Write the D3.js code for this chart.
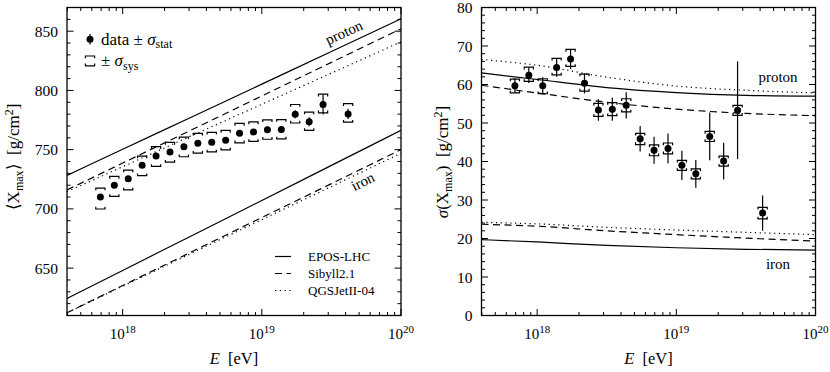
<!DOCTYPE html>
<html><head><meta charset="utf-8">
<script src="https://cdn.jsdelivr.net/npm/d3@7"></script>
<style>
body{margin:0;background:#fff}
svg{display:block}
text{font-family:"Liberation Serif","Times New Roman",serif;fill:#000}
</style>
</head><body>
<svg id="c" width="830" height="372"></svg>
<script>
// ---- data (log10 of energy in eV) ----
const lgE = [17.84, 17.94, 18.04, 18.14, 18.24, 18.34, 18.44, 18.54, 18.64, 18.74, 18.84, 18.94, 19.04, 19.14, 19.24, 19.34, 19.44, 19.62];
// <Xmax>
const meanXmax  = [710.0, 720.0, 725.4, 736.9, 744.7, 748.1, 752.4, 755.4, 756.3, 757.9, 763.8, 765.0, 766.7, 767.0, 779.9, 773.5, 788.1, 780.2];
const meanStat  = [0.9, 1.0, 1.1, 1.2, 1.3, 1.4, 1.5, 1.7, 1.9, 2.1, 2.3, 2.5, 2.7, 3.0, 3.3, 3.8, 8.5, 4.3];
const meanSysUp = [7.6, 7.4, 7.4, 7.6, 7.8, 8.0, 8.2, 8.3, 8.3, 8.3, 8.3, 8.4, 8.4, 8.4, 8.2, 8.2, 8.7, 8.6];
const meanSysDn = [10.1, 9.4, 9.4, 8.9, 8.8, 8.6, 8.4, 8.3, 8.2, 8.1, 8.0, 8.0, 7.9, 7.9, 7.4, 7.3, 7.0, 7.0];
// sigma(Xmax)
const sigXmax   = [59.7, 62.4, 59.7, 64.4, 66.6, 60.3, 53.4, 53.6, 54.6, 45.9, 42.9, 43.4, 39.0, 36.8, 46.5, 40.1, 53.3, 26.6];
const sigStat   = [1.9, 2.0, 2.2, 2.4, 2.6, 2.6, 2.8, 3.0, 3.4, 3.3, 3.5, 3.9, 3.8, 3.6, 6.2, 4.8, 12.7, 4.6];
const sigSysUp  = [1.7, 2.1, 1.8, 2.4, 2.5, 2.4, 1.7, 1.7, 1.7, 1.4, 1.4, 1.4, 1.3, 1.3, 1.3, 1.3, 1.3, 1.5];
const sigSysDn  = [1.9, 1.6, 2.1, 1.9, 1.9, 2.0, 1.7, 1.7, 1.7, 1.5, 1.4, 1.4, 1.3, 1.3, 1.3, 1.3, 1.3, 1.5];

// ---- model predictions ----
const modelLg = [17.6, 18.0, 18.5, 19.0, 19.5, 20.0];
const meanEposP = [728.3, 750.3, 777.8, 805.3, 832.8, 860.4];
const meanSibP  = [716.0, 738.7, 767.0, 795.3, 823.7, 852.0];
const meanQgsP  = [714.5, 735.6, 762.0, 788.3, 814.6, 841.0];
const meanEposFe = [624.4, 648.0, 677.6, 707.1, 736.7, 766.3];
const meanSibFe  = [612.3, 635.3, 664.0, 692.7, 721.3, 750.0];
const meanQgsFe  = [612.3, 634.7, 662.8, 690.9, 718.9, 747.0];
const sigEposP  = [63.0, 61.3, 59.2, 57.9, 57.2, 57.0];
const sigSibP   = [59.8, 57.8, 55.4, 53.6, 52.5, 51.9];
const sigQgsP   = [66.5, 65.0, 61.9, 59.6, 58.5, 57.8];
const sigEposFe = [19.7, 19.1, 18.2, 17.6, 17.2, 17.0];
const sigSibFe  = [23.7, 23.2, 22.0, 21.0, 20.1, 19.3];
const sigQgsFe  = [24.2, 23.8, 22.9, 22.2, 21.6, 21.0];

const modelNames = ["EPOS-LHC", "Sibyll2.1", "QGSJetII-04"];
const xMajorExp = [18, 19, 20];
const meanTicks = [650, 700, 750, 800, 850];
const sigTicks = [0, 10, 20, 30, 40, 50, 60, 70, 80];

// ---- drawing ----
const svg = d3.select("#c");
const styles = [
  {dash: null},
  {dash: "7,4.5"},
  {dash: "1.2,3.6"}
];
const yTop = 7.5, yBot = 315.5;

function makePanel(cfg) {
  const g = svg.append("g");
  const x = d3.scaleLog().domain([Math.pow(10, 17.6), 1e20]).range([cfg.x0, cfg.x1]);
  const y = d3.scaleLinear().domain(cfg.yDomain).range([yBot, yTop]);
  const clipId = "clip" + cfg.id;
  svg.append("clipPath").attr("id", clipId).append("rect")
    .attr("x", cfg.x0).attr("y", yTop).attr("width", cfg.x1 - cfg.x0).attr("height", yBot - yTop);

  const minor = [];
  for (let n = 17; n <= 19; n++) for (let k = 2; k <= 9; k++) {
    const v = k * Math.pow(10, n);
    if (v > x.domain()[0] && v < 1e20) minor.push(v);
  }
  const major = xMajorExp.map(e => Math.pow(10, e));
  const axG = g.append("g").attr("stroke", "#000").attr("stroke-width", 1);
  function tickLines(vals, len) {
    vals.forEach(v => {
      const px = x(v);
      axG.append("line").attr("x1", px).attr("x2", px).attr("y1", yBot).attr("y2", yBot - len);
      axG.append("line").attr("x1", px).attr("x2", px).attr("y1", yTop).attr("y2", yTop + len);
    });
  }
  tickLines(minor, 3.5);
  tickLines(major, 6.5);
  const yd = cfg.yDomain;
  for (let v = Math.ceil(yd[0] / cfg.yMinor) * cfg.yMinor; v <= yd[1] + 1e-9; v += cfg.yMinor) {
    const isMajor = Math.abs(v / cfg.yMajor - Math.round(v / cfg.yMajor)) < 1e-6;
    const len = isMajor ? 6.5 : 3.5;
    const py = y(v);
    axG.append("line").attr("x1", cfg.x0).attr("x2", cfg.x0 + len).attr("y1", py).attr("y2", py);
    axG.append("line").attr("x1", cfg.x1).attr("x2", cfg.x1 - len).attr("y1", py).attr("y2", py);
  }
  xMajorExp.forEach(e => {
    const t = g.append("text").attr("x", x(Math.pow(10, e))).attr("y", 339)
      .attr("text-anchor", "middle").attr("font-size", 15);
    t.append("tspan").text("10");
    t.append("tspan").attr("dy", -6.5).attr("font-size", 11).text(e);
  });
  cfg.yTicks.forEach(v => {
    g.append("text").attr("x", cfg.x0 - 9).attr("y", y(v)).attr("dy", "0.36em")
      .attr("text-anchor", "end").attr("font-size", 15.5).text(v);
  });
  const xt = g.append("text").attr("x", (cfg.x0 + cfg.x1) / 2).attr("y", 364)
    .attr("text-anchor", "middle").attr("font-size", 16.5);
  xt.append("tspan").attr("font-style", "italic").text("E");
  xt.append("tspan").text("\u2002[eV]");

  const line = d3.line().x(d => x(Math.pow(10, d[0]))).y(d => y(d[1])).curve(d3.curveMonotoneX);
  const lg = g.append("g").attr("clip-path", `url(#${clipId})`);
  cfg.models.forEach((vals, i) => {
    lg.append("path").datum(modelLg.map((l, j) => [l, vals[j]]))
      .attr("d", line).attr("fill", "none").attr("stroke", "#000")
      .attr("stroke-width", 1.2)
      .attr("stroke-dasharray", styles[i % 3].dash);
  });

  const dg = g.append("g").attr("stroke", "#000").attr("stroke-width", 1.2).attr("fill", "none");
  const hw = 4.6, tk = 2.2;
  lgE.forEach((l, i) => {
    const px = x(Math.pow(10, l));
    const v = cfg.vals[i];
    const yu = y(v + cfg.sysUp[i]), yl = y(v - cfg.sysDn[i]);
    dg.append("path").attr("d",
      `M${px - hw},${yu + tk}V${yu}H${px + hw}V${yu + tk}` +
      `M${px - hw},${yl - tk}V${yl}H${px + hw}V${yl - tk}`);
    dg.append("line").attr("x1", px).attr("x2", px)
      .attr("y1", y(v + cfg.stat[i])).attr("y2", y(v - cfg.stat[i]));
    g.append("circle").attr("cx", px).attr("cy", y(v)).attr("r", 3.5).attr("fill", "#000");
  });

  g.append("rect").attr("x", cfg.x0).attr("y", yTop).attr("width", cfg.x1 - cfg.x0)
    .attr("height", yBot - yTop).attr("fill", "none").attr("stroke", "#000").attr("stroke-width", 1.3);
  return {g, x, y};
}

const L = makePanel({
  id: "L", x0: 67, x1: 401, yDomain: [610, 870], yMajor: 50, yMinor: 10, yTicks: meanTicks,
  models: [meanEposP, meanSibP, meanQgsP, meanEposFe, meanSibFe, meanQgsFe],
  vals: meanXmax, stat: meanStat, sysUp: meanSysUp, sysDn: meanSysDn
});
const R = makePanel({
  id: "R", x0: 481.5, x1: 815.5, yDomain: [0, 80], yMajor: 10, yMinor: 2, yTicks: sigTicks,
  models: [sigEposP, sigSibP, sigQgsP, sigEposFe, sigSibFe, sigQgsFe],
  vals: sigXmax, stat: sigStat, sysUp: sigSysUp, sysDn: sigSysDn
});

const ytl = svg.append("text").attr("transform", "translate(19,157) rotate(-90)")
  .attr("text-anchor", "middle").attr("font-size", 17);
ytl.append("tspan").text("\u27E8X");
ytl.append("tspan").attr("dy", 3.5).attr("font-size", 12).text("max");
ytl.append("tspan").attr("dy", -3.5).text("\u27E9\u2002[g/cm");
ytl.append("tspan").attr("dy", -6.5).attr("font-size", 12).text("2");
ytl.append("tspan").attr("dy", 6.5).text("]");

const ytr = svg.append("text").attr("transform", "translate(448,162) rotate(-90)")
  .attr("text-anchor", "middle").attr("font-size", 17);
ytr.append("tspan").attr("font-style", "italic").text("\u03C3");
ytr.append("tspan").text("(X");
ytr.append("tspan").attr("dy", 3.5).attr("font-size", 12).text("max");
ytr.append("tspan").attr("dy", -3.5).text(")\u2002[g/cm");
ytr.append("tspan").attr("dy", -6.5).attr("font-size", 12).text("2");
ytr.append("tspan").attr("dy", 6.5).text("]");

svg.append("text").attr("transform", "translate(346,37) rotate(-25)")
  .attr("text-anchor", "middle").attr("font-size", 15).text("proton");
svg.append("text").attr("transform", "translate(365,186) rotate(-26)")
  .attr("text-anchor", "middle").attr("font-size", 15).text("iron");
svg.append("text").attr("x", 778).attr("y", 82).attr("text-anchor", "middle").attr("font-size", 15).text("proton");
svg.append("text").attr("x", 778).attr("y", 269).attr("text-anchor", "middle").attr("font-size", 15).text("iron");

const lgd = svg.append("g");
lgd.append("line").attr("x1", 90).attr("x2", 90).attr("y1", 34).attr("y2", 44.5).attr("stroke", "#000").attr("stroke-width", 1.2);
lgd.append("circle").attr("cx", 90).attr("cy", 39.3).attr("r", 3.5).attr("fill", "#000");
const t1 = lgd.append("text").attr("x", 101).attr("y", 44.5).attr("font-size", 17);
t1.append("tspan").text("data \u00B1 ");
t1.append("tspan").attr("font-style", "italic").text("\u03C3");
t1.append("tspan").attr("dy", 3.5).attr("font-size", 12).text("stat");
lgd.append("path").attr("d", "M85.4,58.2V56H94.6V58.2M85.4,63.6V65.8H94.6V63.6")
  .attr("fill", "none").attr("stroke", "#000").attr("stroke-width", 1.2);
const t2 = lgd.append("text").attr("x", 101).attr("y", 66).attr("font-size", 17);
t2.append("tspan").text("\u00B1 ");
t2.append("tspan").attr("font-style", "italic").text("\u03C3");
t2.append("tspan").attr("dy", 3.5).attr("font-size", 12).text("sys");

modelNames.forEach((nm, i) => {
  const yy = 256.5 + i * 17;
  svg.append("line").attr("x1", 275).attr("x2", 291).attr("y1", yy).attr("y2", yy)
    .attr("stroke", "#000").attr("stroke-width", 1.2).attr("stroke-dasharray", styles[i].dash);
  svg.append("text").attr("x", 308).attr("y", yy).attr("dy", "0.35em").attr("font-size", 13).text(nm);
});
</script>
</body></html>
